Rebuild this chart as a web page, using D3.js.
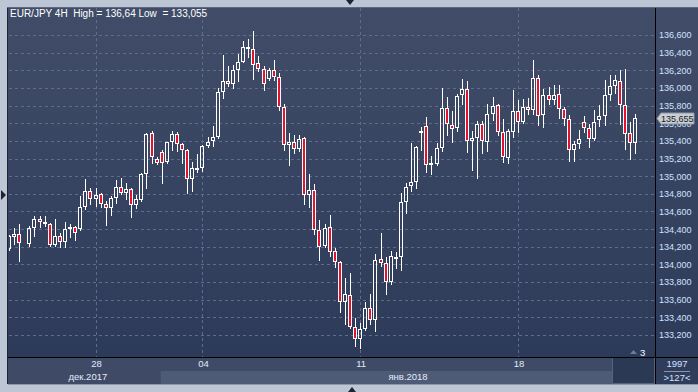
<!DOCTYPE html>
<html>
<head>
<meta charset="utf-8">
<script src="https://cdn.jsdelivr.net/npm/d3@7"></script>
<style>
  html, body { margin: 0; padding: 0; background: #bfc9d7; }
  svg { display: block; font-family: "Liberation Sans", Arial, sans-serif; }
</style>
</head>
<body>
<svg id="chart"></svg>
<script>
const width = 698;
const height = 392;

// EUR/JPY 4H bars, one slot per bar (null = no bar in that slot)
const opens = [134.173,134.309,134.343,null,134.234,134.411,134.513,134.479,134.456,134.215,
  134.324,134.253,134.400,134.426,134.400,134.649,134.834,134.739,134.796,134.683,
  134.637,134.751,134.875,134.807,134.853,134.668,134.728,135.022,135.487,135.192,
  135.279,135.158,135.389,135.483,135.366,135.302,134.970,135.083,135.094,135.347,
  135.396,135.441,135.955,136.083,136.045,136.204,136.294,136.464,136.441,136.283,
  136.215,136.102,136.204,136.125,135.785,135.351,135.389,135.309,135.434,134.785,
  134.838,134.385,134.207,134.426,134.151,134.030,133.577,133.649,133.294,133.158,
  133.264,133.509,133.370,134.064,134.019,133.796,134.075,134.087,134.709,134.887,
  134.936,135.502,135.574,135.121,135.140,135.325,135.774,135.581,135.543,135.925,
  135.989,135.400,135.434,135.592,135.389,135.710,135.804,135.502,135.211,135.502,
  135.736,135.615,135.789,135.755,136.117,135.691,135.925,135.861,135.936,135.766,
  135.653,135.302,135.359,135.615,135.551,135.427,135.642,135.687,135.925,136.023,
  136.083,135.811,135.494,135.381];
const highs = [134.330,134.411,134.460,null,134.430,134.551,134.543,134.551,134.468,134.520,
  134.354,134.479,134.460,134.437,134.770,134.970,134.864,134.864,134.807,134.713,
  134.770,134.958,134.977,134.921,134.864,134.788,135.034,135.494,135.513,135.222,
  135.298,135.392,135.517,135.502,135.377,135.313,135.162,135.253,135.358,135.441,
  135.566,136.000,136.370,136.253,136.264,136.385,136.536,136.558,136.640,136.358,
  136.245,136.226,136.321,136.170,135.819,135.490,135.472,135.472,135.441,135.030,
  134.906,134.509,134.460,134.555,134.189,134.038,133.841,133.906,133.396,133.339,
  133.577,133.660,134.113,134.358,134.083,134.151,134.140,134.811,134.917,135.377,
  135.347,135.559,135.668,135.226,135.377,136.000,135.898,135.743,135.932,136.102,
  136.083,135.517,135.623,135.630,135.823,135.898,135.823,135.645,135.540,135.981,
  135.861,135.879,135.887,136.313,136.144,135.993,136.012,136.038,136.038,135.785,
  135.691,135.396,135.521,135.679,135.596,135.747,135.804,136.087,136.144,136.151,
  136.200,136.212,135.615,135.710];
const lows = [134.160,134.230,134.034,null,134.211,134.317,134.419,134.437,134.210,134.210,
  134.196,134.196,134.305,134.279,134.385,134.630,134.687,134.664,134.649,134.449,
  134.562,134.694,134.800,134.739,134.532,134.637,134.720,134.864,135.147,135.136,
  134.921,135.147,135.302,135.283,135.151,134.811,134.830,135.049,135.056,135.328,
  135.339,135.434,135.887,136.019,136.000,136.075,136.290,136.347,136.106,136.189,
  135.974,136.094,136.094,135.747,135.302,135.124,135.264,135.283,134.679,134.649,
  134.347,134.045,134.196,134.094,133.970,133.464,133.321,133.275,133.075,133.055,
  133.253,133.321,133.245,133.981,133.668,133.781,133.962,133.932,134.585,134.830,
  134.868,135.302,135.045,135.026,135.125,135.283,135.464,135.385,135.517,135.823,
  135.272,135.068,134.981,135.264,135.283,135.634,135.464,135.162,135.151,135.445,
  135.502,135.600,135.710,135.710,135.585,135.559,135.823,135.823,135.661,135.577,
  135.170,135.170,135.321,135.502,135.332,135.408,135.570,135.577,135.861,135.947,
  135.596,135.306,135.200,135.264];
const closes = [134.317,134.343,134.241,null,134.411,134.517,134.479,134.456,134.215,134.324,
  134.253,134.403,134.426,134.354,134.649,134.834,134.739,134.785,134.683,134.637,
  134.751,134.875,134.807,134.853,134.668,134.739,135.022,135.475,135.215,135.147,
  135.147,135.385,135.483,135.366,135.294,134.970,135.094,135.094,135.347,135.389,
  135.445,135.955,136.083,136.045,136.204,136.294,136.464,136.441,136.264,136.215,
  136.045,136.204,136.125,135.785,135.351,135.389,135.309,135.423,134.785,134.838,
  134.385,134.196,134.415,134.143,134.030,133.577,133.660,133.290,133.158,133.271,
  133.509,133.370,134.049,134.019,133.804,134.098,134.087,134.709,134.879,134.936,
  135.336,135.509,135.121,135.151,135.325,135.774,135.589,135.540,135.913,135.989,
  135.400,135.434,135.592,135.400,135.710,135.793,135.502,135.219,135.510,135.736,
  135.615,135.789,135.755,136.117,135.683,135.925,135.868,135.925,135.766,135.645,
  135.302,135.359,135.427,135.551,135.427,135.619,135.687,135.925,136.023,136.091,
  135.811,135.479,135.381,135.655];

const priceTicks = [133.2,133.4,133.6,133.8,134.0,134.2,134.4,134.6,134.8,135.0,
  135.2,135.4,135.6,135.8,136.0,136.2,136.4,136.6];
const dayTickBars = [17, 38, 69, 100];
const dayTickLabels = ['28', '04', '11', '18'];
const monthLabels = ['дек.2017', 'янв.2018'];
const monthLabelBars = [15.5, 78.4];
const monthStartBars = [0, 30];
const lastPrice = 135.655;
const barCount = 127;

const plot = { left: 8, top: 8, right: 655, bottom: 357 };
const fmt = v => d3.format('.3f')(v).replace('.', ',');

const svg = d3.select('#chart')
  .attr('width', width)
  .attr('height', height);

const defs = svg.append('defs');
const grad = defs.append('linearGradient')
  .attr('id', 'bg')
  .attr('x1', 0).attr('y1', 0).attr('x2', 0).attr('y2', 1);
grad.append('stop').attr('offset', '0%').attr('stop-color', '#414d68');
grad.append('stop').attr('offset', '100%').attr('stop-color', '#2b3958');

defs.append('clipPath').attr('id', 'clip')
  .append('rect')
  .attr('x', plot.left + 1).attr('y', plot.top)
  .attr('width', plot.right - plot.left - 1)
  .attr('height', plot.bottom - plot.top);

const xScale = d3.scaleLinear()
  .domain([0, barCount])
  .range([9, 9 + barCount * 5.09]);

const yScale = d3.scaleLinear()
  .domain([133.2, 136.6])
  .range([335, 35]);

// ====================================
// Frame
// ====================================
svg.append('rect')
  .attr('width', width).attr('height', height)
  .attr('fill', '#bcc6d4');

svg.append('rect')
  .attr('x', plot.left).attr('y', plot.top)
  .attr('width', width - plot.left).attr('height', 384 - plot.top)
  .attr('fill', 'url(#bg)');

// axis band below plot
svg.append('rect')
  .attr('x', plot.left).attr('y', plot.bottom)
  .attr('width', plot.right - plot.left).attr('height', 384 - plot.bottom)
  .attr('fill', '#3e4a66');

const janX = xScale(monthStartBars[1]) - 1;
svg.append('rect')
  .attr('x', janX).attr('y', 371)
  .attr('width', 612 - janX).attr('height', 13)
  .attr('fill', '#4d5b77');

svg.append('rect')
  .attr('x', 612.5).attr('y', 357.5)
  .attr('width', 42).attr('height', 26)
  .attr('fill', '#2c3955')
  .attr('stroke', '#56637d');

svg.append('rect')
  .attr('x', 656).attr('y', plot.bottom)
  .attr('width', width - 656).attr('height', 384 - plot.bottom)
  .attr('fill', '#2f3c5a');

// ====================================
// Grid
// ====================================
const grid = svg.append('g')
  .attr('stroke', '#5e6d8b')
  .attr('stroke-dasharray', '3,3')
  .attr('stroke-width', 1);

grid.selectAll('line.h')
  .data(priceTicks)
  .enter()
  .append('line')
  .attr('x1', plot.left + 1).attr('x2', plot.right)
  .attr('y1', d => Math.round(yScale(d)) + 0.5)
  .attr('y2', d => Math.round(yScale(d)) + 0.5);

grid.selectAll('line.v')
  .data(dayTickBars)
  .enter()
  .append('line')
  .attr('x1', d => Math.round(xScale(d)) + 0.5)
  .attr('x2', d => Math.round(xScale(d)) + 0.5)
  .attr('y1', plot.top).attr('y2', plot.bottom);

// ====================================
// Candles
// ====================================
const bars = d3.range(opens.length).filter(i => opens[i] != null);
const candles = svg.append('g').attr('clip-path', 'url(#clip)');

const candle = candles.selectAll('g')
  .data(bars)
  .enter()
  .append('g');

candle.each(function (i) {
  const g = d3.select(this);
  const cx = Math.round(xScale(i));
  const top = Math.round(yScale(Math.max(opens[i], closes[i])));
  let bot = Math.round(yScale(Math.min(opens[i], closes[i])));
  if (bot - top < 2) bot = top + 2;
  const hi = Math.round(yScale(highs[i]));
  const lo = Math.round(yScale(lows[i]));
  const up = closes[i] >= opens[i];

  g.append('line')
    .attr('x1', cx + 0.5).attr('x2', cx + 0.5)
    .attr('y1', hi).attr('y2', top)
    .attr('stroke', '#fff');
  g.append('line')
    .attr('x1', cx + 0.5).attr('x2', cx + 0.5)
    .attr('y1', bot).attr('y2', lo + 1)
    .attr('stroke', '#fff');
  g.append('rect')
    .attr('x', cx - 1.5).attr('y', top + 0.5)
    .attr('width', 3).attr('height', bot - top - 1)
    .attr('fill', up ? 'none' : '#e3122f')
    .attr('stroke', '#fff')
    .attr('stroke-width', 1);
});

// ====================================
// Borders
// ====================================
svg.append('line')
  .attr('x1', plot.left - 0.5).attr('x2', plot.left - 0.5)
  .attr('y1', plot.top - 1).attr('y2', 384)
  .attr('stroke', '#1b2232');
svg.append('line')
  .attr('x1', plot.left - 1).attr('x2', width)
  .attr('y1', plot.top - 0.5).attr('y2', plot.top - 0.5)
  .attr('stroke', '#5d6880');
svg.append('line')
  .attr('x1', plot.right + 0.5).attr('x2', plot.right + 0.5)
  .attr('y1', plot.top).attr('y2', 384)
  .attr('stroke', '#000');
svg.append('line')
  .attr('x1', plot.left).attr('x2', width)
  .attr('y1', plot.bottom + 0.5).attr('y2', plot.bottom + 0.5)
  .attr('stroke', '#000');
svg.append('line')
  .attr('x1', plot.left).attr('x2', width)
  .attr('y1', 384.5).attr('y2', 384.5)
  .attr('stroke', '#8c97a8');

// ====================================
// Axes
// ====================================
const yAxis = d3.axisRight(yScale)
  .tickValues(priceTicks)
  .tickSize(0)
  .tickPadding(3)
  .tickFormat(fmt);

const yG = svg.append('g')
  .attr('transform', `translate(${plot.right + 1}, 0)`)
  .call(yAxis);
yG.select('.domain').remove();
yG.selectAll('text')
  .attr('fill', '#d3e2ff')
  .attr('font-size', '9px')
  .attr('font-family', '"Liberation Sans", Arial, sans-serif');

const xAxis = d3.axisBottom(xScale)
  .tickValues(dayTickBars)
  .tickSize(0)
  .tickPadding(3)
  .tickFormat((d, i) => dayTickLabels[i]);

const xG = svg.append('g')
  .attr('transform', `translate(0.5, ${plot.bottom})`)
  .call(xAxis);
xG.select('.domain').remove();
xG.selectAll('text')
  .attr('fill', '#e4ebf6')
  .attr('font-size', '9.5px')
  .attr('font-family', '"Liberation Sans", Arial, sans-serif');

svg.append('g')
  .selectAll('text')
  .data(monthLabels)
  .enter()
  .append('text')
  .attr('x', (d, i) => xScale(monthLabelBars[i]))
  .attr('y', 380)
  .attr('text-anchor', 'middle')
  .attr('fill', '#e4ebf6')
  .attr('font-size', '9.5px')
  .text(d => d);

// ====================================
// Last price marker (drawn over the axis label, as in the terminal)
// ====================================
const ly = Math.round(yScale(lastPrice)) + 0.5;
svg.append('path')
  .attr('d', `M657,${ly} L661,${ly - 5.5} L694,${ly - 5.5} L694,${ly + 5.5} L661,${ly + 5.5} Z`)
  .attr('fill', '#c9cdd4')
  .attr('stroke', '#8e96a3');
svg.append('text')
  .attr('x', 661).attr('y', ly + 3.5)
  .attr('fill', '#1a1d24')
  .attr('font-size', '9px')
  .text(fmt(lastPrice));

// ====================================
// Title and small labels
// ====================================
svg.append('text')
  .attr('x', 10).attr('y', 17)
  .attr('fill', '#ffffff')
  .attr('font-size', '10px')
  .attr('xml:space', 'preserve')
  .style('white-space', 'pre')
  .text('EUR/JPY 4H  High = 136,64 Low  = 133,055');

svg.append('path')
  .attr('d', 'M630,354 L633.5,350 L637,354 Z')
  .attr('fill', '#6f7c94');
svg.append('text')
  .attr('x', 640).attr('y', 356)
  .attr('fill', '#ffffff')
  .attr('font-size', '9.5px')
  .text('3');

svg.append('text')
  .attr('x', 677).attr('y', 367)
  .attr('text-anchor', 'middle')
  .attr('fill', '#d3e2ff')
  .attr('font-size', '9.5px')
  .text('1997');
svg.append('line')
  .attr('x1', 664).attr('x2', 690)
  .attr('y1', 371.5).attr('y2', 371.5)
  .attr('stroke', '#8a96ad');
svg.append('text')
  .attr('x', 677).attr('y', 381)
  .attr('text-anchor', 'middle')
  .attr('fill', '#d3e2ff')
  .attr('font-size', '9.5px')
  .text('>127<');

// scroll arrows on the outer frame
svg.append('path').attr('d', 'M346,0 L354,0 L350,5 Z').attr('fill', '#1d2330');
svg.append('path').attr('d', 'M1,190 L6,195 L1,200 Z').attr('fill', '#1d2330');
svg.append('path').attr('d', 'M348,392 L352,387 L356,392 Z').attr('fill', '#1d2330');
</script>
</body>
</html>
